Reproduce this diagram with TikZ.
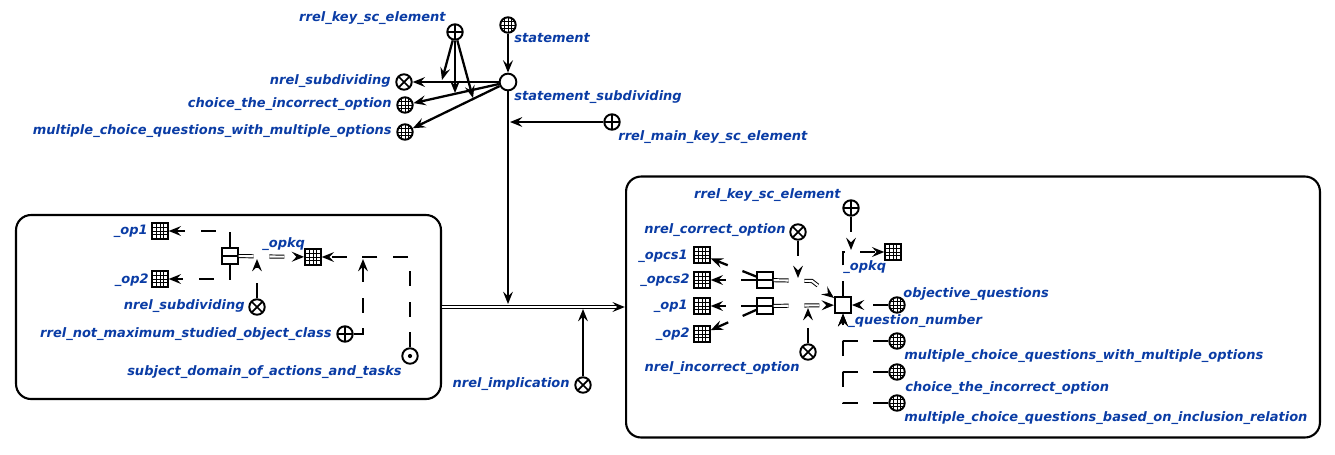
\documentclass[tikz,border=0pt]{standalone}
\usepackage{fontspec}
\setmainfont{DejaVu Sans}
\usepackage{tikz}
\usetikzlibrary{arrows.meta,decorations.markings}
\definecolor{scblue}{RGB}{10,60,165}

\begin{document}
\begin{tikzpicture}[x=0.02cm,y=-0.02cm,>={Stealth[length=7pt,width=5.6pt,inset=2.6pt]},
	elem/.style={draw,line width=1.1pt,inner sep=0pt,minimum size=8.8pt},
	cnode/.style={elem,circle},
	sqnode/.style={elem,rectangle},
	plusnode/.style={cnode,path picture={\draw[line width=1pt] (path picture bounding box.north) -- (path picture bounding box.south) (path picture bounding box.west) -- (path picture bounding box.east);}},
	crossnode/.style={cnode,path picture={\draw[line width=1pt] (path picture bounding box.north west) -- (path picture bounding box.south east) (path picture bounding box.north east) -- (path picture bounding box.south west);}},
	dotnode/.style={cnode,path picture={\fill (path picture bounding box.center) circle (1.2pt);}},
	gridlines/.style={path picture={\foreach \d in {-2.2pt,0pt,2.2pt} \draw[line width=.5pt] ([xshift=\d]path picture bounding box.north) -- ([xshift=\d]path picture bounding box.south) ([yshift=\d]path picture bounding box.west) -- ([yshift=\d]path picture bounding box.east);}},
	gridcnode/.style={cnode,gridlines},
	gridsqnode/.style={sqnode,gridlines},
	tuplenode/.style={sqnode,path picture={\draw[line width=1pt] (path picture bounding box.west) -- (path picture bounding box.east);}},
	ctbox/.style={draw,rounded corners=8.5pt,line width=1.2pt},
	lbl/.style={font=\fontsize{7.4}{9}\selectfont\bfseries\itshape,text=scblue,inner sep=0pt},
	scarc/.style={->,line width=1.3pt},
	vararc/.style={scarc,dash pattern=on 8.5pt off 9pt},
	pairarc/.style={double,double distance=1.2pt,line width=.55pt,shorten >=3pt,
		postaction={decorate,decoration={markings,mark=at position -0.1pt with {\arrow[line width=1.3pt]{>}}}}},
	varpair/.style={pairarc,dash pattern=on 8.5pt off 9pt}]
	\useasboundingbox (0,0) rectangle (1335,454);

	% contours
	\node[ctbox,minimum width=8.5cm,minimum height=3.68cm]	(ctL)	at (228.5,307)	{};
	\node[ctbox,minimum width=13.88cm,minimum height=5.22cm]	(ctR)	at (973,307)	{};

	% upper part
	\node[plusnode]				(rks)	at (455,32)		{};
	\node[gridcnode]			(stm)	at (508,25)		{};
	\node[cnode,minimum size=9.5pt]	(sts)	at (508,82)		{};
	\node[crossnode]			(nsub)	at (404,82)		{};
	\node[gridcnode]			(cio)	at (405,105)	{};
	\node[gridcnode]			(mcq)	at (405,132)	{};
	\node[plusnode]				(rmk)	at (612,122)	{};
	\node[crossnode]			(nimp)	at (583,385)	{};

	\node[lbl,anchor=base east]	(rks-l)		at (446,21)		{rrel\_key\_sc\_element};
	\node[lbl,anchor=base west]	(stm-l)		at (514,42)		{statement};
	\node[lbl,anchor=base east]	(nsub-l)	at (391,84)		{nrel\_subdividing};
	\node[lbl,anchor=base east]	(cio-l)		at (392,107)	{choice\_the\_incorrect\_option};
	\node[lbl,anchor=base east]	(mcq-l)		at (392,134)	{multiple\_choice\_questions\_with\_multiple\_options};
	\node[lbl,anchor=base west]	(sts-l)		at (514,100)	{statement\_subdividing};
	\node[lbl,anchor=base west]	(rmk-l)		at (618,140)	{rrel\_main\_key\_sc\_element};
	\node[lbl,anchor=base east]	(nimp-l)	at (570,387)	{nrel\_implication};

	\coordinate (k1) at (442,80);
	\coordinate (k2) at (455,93);
	\coordinate (k3) at (473,98);
	\coordinate (sv1) at (510,122);
	\coordinate (imp1) at (508,304);
	\coordinate (imp2) at (583,309);

	% left contour
	\node[gridsqnode]	(op1)	at (160,231)	{};
	\node[gridsqnode]	(op2)	at (160,279)	{};
	\node[tuplenode]	(tupL)	at (230,256)	{};
	\node[gridsqnode]	(opkqL)	at (313,257)	{};
	\node[crossnode]	(nsubL)	at (257,307)	{};
	\node[plusnode]		(rnm)	at (345,334)	{};
	\node[dotnode]		(sdat)	at (410,356)	{};

	\node[lbl,anchor=base east]	(op1-l)		at (148,234)	{\_op1};
	\node[lbl,anchor=base east]	(op2-l)		at (149,283)	{\_op2};
	\node[lbl,anchor=base west]	(opkqL-l)	at (262,247)	{\_opkq};
	\node[lbl,anchor=base east]	(nsubL-l)	at (245,309)	{nrel\_subdividing};
	\node[lbl,anchor=base east]	(rnm-l)		at (332,337)	{rrel\_not\_maximum\_studied\_object\_class};
	\node[lbl,anchor=base east]	(sdat-l)	at (402,375)	{subject\_domain\_of\_actions\_and\_tasks};

	\coordinate (cL1) at (257,259);
	\coordinate (cL2) at (363,259);

	% right contour
	\node[plusnode]		(rksR)	at (851,208)	{};
	\node[gridsqnode]	(opkqR)	at (893,252)	{};
	\node[crossnode]	(nco)	at (798,232)	{};
	\node[gridsqnode]	(opcs1)	at (702,255)	{};
	\node[gridsqnode]	(opcs2)	at (702,280)	{};
	\node[gridsqnode]	(op1R)	at (702,306)	{};
	\node[gridsqnode]	(op2R)	at (702,334)	{};
	\node[tuplenode]	(tup1)	at (765,280)	{};
	\node[tuplenode]	(tup2)	at (765,306)	{};
	\node[sqnode,minimum size=9pt]	(qn)	at (843,305)	{};
	\node[crossnode]	(nio)	at (808,352)	{};
	\node[gridcnode]	(objq)	at (897,305)	{};
	\node[gridcnode]	(mcqR)	at (897,341)	{};
	\node[gridcnode]	(cioR)	at (897,372)	{};
	\node[gridcnode]	(mcqi)	at (897,403)	{};

	\node[lbl,anchor=base east]	(rksR-l)	at (841,198)	{rrel\_key\_sc\_element};
	\node[lbl,anchor=base east]	(nco-l)		at (786,233)	{nrel\_correct\_option};
	\node[lbl,anchor=base east]	(opcs1-l)	at (688,259)	{\_opcs1};
	\node[lbl,anchor=base east]	(opcs2-l)	at (690,283)	{\_opcs2};
	\node[lbl,anchor=base east]	(op1R-l)	at (688,309)	{\_op1};
	\node[lbl,anchor=base east]	(op2R-l)	at (690,337)	{\_op2};
	\node[lbl,anchor=base east]	(nio-l)		at (800,371)	{nrel\_incorrect\_option};
	\node[lbl,anchor=base west]	(opkqR-l)	at (843,270)	{\_opkq};
	\node[lbl,anchor=base west]	(objq-l)	at (903,297)	{objective\_questions};
	\node[lbl,anchor=base west]	(qn-l)		at (848,324)	{\_question\_number};
	\node[lbl,anchor=base west]	(mcqR-l)	at (904,359)	{multiple\_choice\_questions\_with\_multiple\_options};
	\node[lbl,anchor=base west]	(cioR-l)	at (905,391)	{choice\_the\_incorrect\_option};
	\node[lbl,anchor=base west]	(mcqi-l)	at (904,421)	{multiple\_choice\_questions\_based\_on\_inclusion\_relation};

	\coordinate (cR1) at (798,278);
	\coordinate (cR2) at (808,308);
	\coordinate (cR3) at (851,250);
	\coordinate (bend) at (812,281);

	% connectors
	\draw[scarc]	(stm) -- (sts);
	\draw[scarc]	(sts) -- (nsub);
	\draw[scarc]	(sts) -- (cio);
	\draw[scarc]	(sts) -- (mcq);
	\draw[scarc]	(rks) -- (k1);
	\draw[scarc]	(rks) -- (k2);
	\draw[scarc]	(rks) -- (k3);
	\draw[scarc]	(rmk) -- (sv1);
	\draw[scarc]	(sts) -- (imp1);
	\draw[scarc]	(nimp) -- (imp2);
	\draw[pairarc]	(ctL) -- (ctR);

	\draw[vararc]	(tupL) |- (op1);
	\draw[vararc]	(tupL) |- (op2);
	\draw[varpair]	(tupL) -- (opkqL);
	\draw[vararc]	(nsubL) -- (cL1);
	\draw[vararc]	(sdat) |- (opkqL);
	\draw[vararc]	(rnm) -| (cL2);

	\draw[vararc]	(tup1) -- (opcs1);
	\draw[vararc]	(tup1) -- (opcs2);
	\draw[vararc]	(tup2) -- (op1R);
	\draw[vararc]	(tup2) -- (op2R);
	\draw[varpair]	(tup1) -- (bend) -- (qn);
	\draw[varpair]	(tup2) -- (qn);
	\draw[vararc]	(nco) -- (cR1);
	\draw[vararc]	(nio) -- (cR2);
	\draw[vararc]	(qn) |- (opkqR);
	\draw[vararc]	(rksR) -- (cR3);
	\draw[vararc]	(objq) -- (qn);
	\draw[vararc]	(mcqR) -| (qn);
	\draw[vararc]	(cioR) -| (qn);
	\draw[vararc]	(mcqi) -| (qn);
\end{tikzpicture}
\end{document}
